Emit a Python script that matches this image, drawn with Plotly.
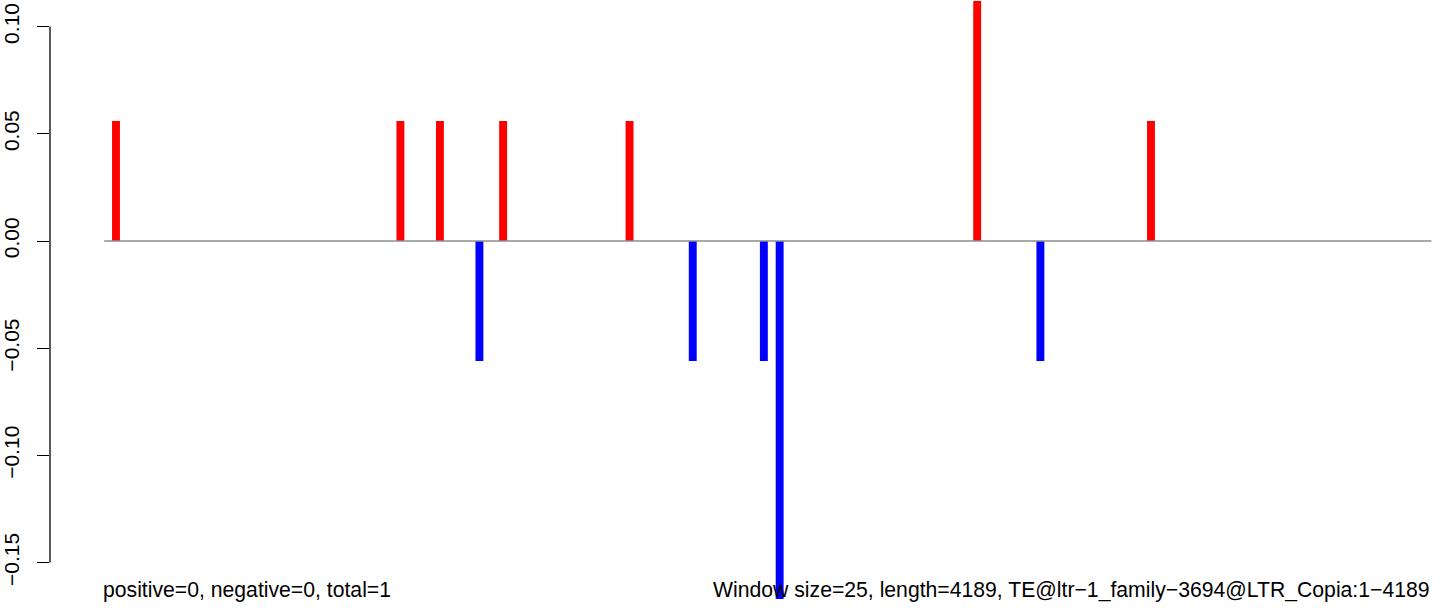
import math
import plotly.graph_objects as go

# ---- data ----
window_size = 25
seq_length = 4189
window_index = [1, 37, 42, 47, 50, 66, 74, 83, 85, 110, 118, 132]
values = [0.056, 0.056, 0.056, -0.056, 0.056, 0.056, -0.056, -0.056, -0.167, 0.112, -0.056, 0.056]
ytick_vals = [-0.15, -0.10, -0.05, 0.00, 0.05, 0.10]
ytick_text = ["\u22120.15", "\u22120.10", "\u22120.05", "0.00", "0.05", "0.10"]
left_note = "positive=0, negative=0, total=1"
right_note = "Window size=25, length=4189, TE@ltr\u22121_family\u22123694@LTR_Copia:1\u22124189"

n_windows = math.ceil(seq_length / window_size)
centers = [(i + 0.5) * window_size for i in window_index]
pos_x = [c for c, v in zip(centers, values) if v > 0]
pos_y = [v for v in values if v > 0]
neg_x = [c for c, v in zip(centers, values) if v < 0]
neg_y = [v for v in values if v < 0]

FONT = "Liberation Sans, Arial, Helvetica, sans-serif"
W, H = 1444, 611
L = 50

fig = go.Figure()
fig.add_trace(go.Scatter(x=[0, n_windows * window_size], y=[0, 0], mode="lines",
                         line=dict(color="#8c8c8c", width=1.5), hoverinfo="skip", showlegend=False))
fig.add_trace(go.Bar(x=pos_x, y=pos_y, width=window_size, marker=dict(color="#ff0000", line=dict(width=0)), showlegend=False))
fig.add_trace(go.Bar(x=neg_x, y=neg_y, width=window_size, marker=dict(color="#0000ff", line=dict(width=0)), showlegend=False))

# axis line from first to last tick (R style)
fig.add_shape(type="line", xref="paper", yref="y", x0=0, x1=0, y0=ytick_vals[0], y1=ytick_vals[-1],
              line=dict(color="black", width=1.3))

fig.add_annotation(text=left_note, x=0, xref="x", xanchor="left", y=0, yref="paper", yanchor="bottom",
                   showarrow=False, font=dict(family=FONT, size=21.2, color="black"), borderpad=0, yshift=8, xshift=-2)
fig.add_annotation(text=right_note, x=n_windows * window_size, xref="x", xanchor="right", y=0, yref="paper",
                   yanchor="bottom", showarrow=False, font=dict(family=FONT, size=21.2, color="black"), borderpad=0, yshift=8)

fig.update_layout(
    width=W, height=H,
    margin=dict(l=L, r=0, t=0, b=0, autoexpand=False),
    paper_bgcolor="white", plot_bgcolor="white",
    barmode="overlay",
    xaxis=dict(range=[-171.3, 4239.6], visible=False, showgrid=False, zeroline=False, automargin=False),
    yaxis=dict(range=[-0.17257, 0.11241], showgrid=False, zeroline=False, showline=False, automargin=False,
               tickmode="array", tickvals=ytick_vals, ticktext=ytick_text,
               ticks="outside", ticklen=12, tickwidth=1.3, tickcolor="black",
               tickangle=-90, tickfont=dict(family=FONT, size=21, color="black"),
               ticklabelstandoff=10),
    font=dict(family=FONT),
)

fig.write_html("out.html", config={"displayModeBar": False},
               post_script="document.body.style.margin='0';document.body.style.padding='0';document.body.style.overflow='hidden';")
